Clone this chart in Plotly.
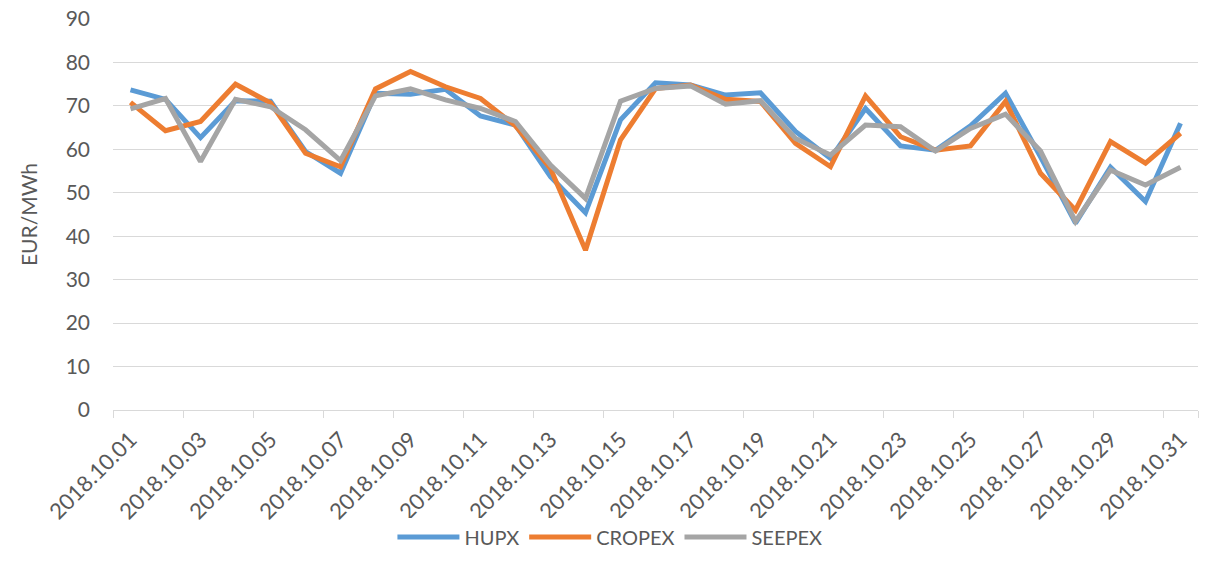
import plotly.graph_objects as go

dates = [f"2018.10.{d:02d}" for d in range(1, 32)]

hupx = [73.7, 71.5, 62.7, 71.2, 71.1, 59.5, 54.5, 72.9, 72.7, 73.8,
        67.7, 65.6, 53.7, 45.4, 66.8, 75.3, 74.8, 72.5, 73.0, 64.1,
        57.9, 69.4, 60.8, 59.8, 65.4, 72.9, 58.3, 43.0, 55.9, 48.0, 66.0]
cropex = [70.8, 64.3, 66.4, 75.0, 70.7, 59.1, 56.0, 73.9, 77.9, 74.4,
          71.7, 65.4, 55.6, 36.8, 62.2, 74.0, 74.8, 71.5, 71.0, 61.4,
          56.0, 72.3, 62.9, 59.8, 60.8, 71.0, 54.5, 46.0, 61.8, 56.8, 63.7]
seepex = [69.3, 71.7, 57.2, 71.5, 69.8, 64.5, 57.4, 72.3, 73.9, 71.4,
          69.4, 66.4, 56.4, 48.7, 71.1, 74.0, 74.6, 70.4, 71.2, 62.5,
          58.7, 65.6, 65.2, 59.6, 64.8, 68.1, 59.6, 43.4, 55.2, 51.8, 55.9]

series = [("HUPX", hupx, "#5B9BD5"), ("CROPEX", cropex, "#ED7D31"), ("SEEPEX", seepex, "#A5A5A5")]

tick_labels = dates[::2]

fig = go.Figure()
for name, vals, col in series:
    fig.add_trace(go.Scatter(x=dates, y=vals, mode="lines", name=name,
                             line=dict(color=col, width=5)))

font_fam = "Lato, Carlito, Calibri, sans-serif"
fig.update_layout(
    width=1209, height=575,
    margin=dict(l=113, r=11, t=19, b=165),
    paper_bgcolor="white", plot_bgcolor="white",
    font=dict(family=font_fam, size=21, color="#595959"),
    showlegend=True,
    legend=dict(orientation="h", x=0.458, xanchor="center", y=-0.325, yanchor="middle",
                font=dict(size=20, color="#595959"), itemwidth=62, traceorder="normal"),
    xaxis=dict(type="category", categoryorder="array", categoryarray=dates,
               tickmode="array", tickvals=tick_labels, ticktext=tick_labels,
               tickangle=-45, tickson="boundaries", ticks="outside", ticklen=7,
               tickcolor="#D9D9D9", showgrid=False, showline=True, linecolor="#D9D9D9",
               linewidth=1, tickfont=dict(size=22, color="#595959"), range=[-0.5, 30.5],
               ticklabelstandoff=7, automargin=False),
    yaxis=dict(range=[0, 90], dtick=10, showgrid=True, gridcolor="#D9D9D9", gridwidth=1,
               zeroline=False, showline=False, ticks="", ticklabelstandoff=22,
               ticklabeloverflow="allow", automargin=False,
               title=dict(text="EUR/MWh", font=dict(size=21, color="#595959"), standoff=22),
               tickfont=dict(size=21, color="#595959")),
)

fig.write_html("out.html", config={"displayModeBar": False},
               post_script="document.body.style.margin='0';document.body.style.overflow='hidden';")
